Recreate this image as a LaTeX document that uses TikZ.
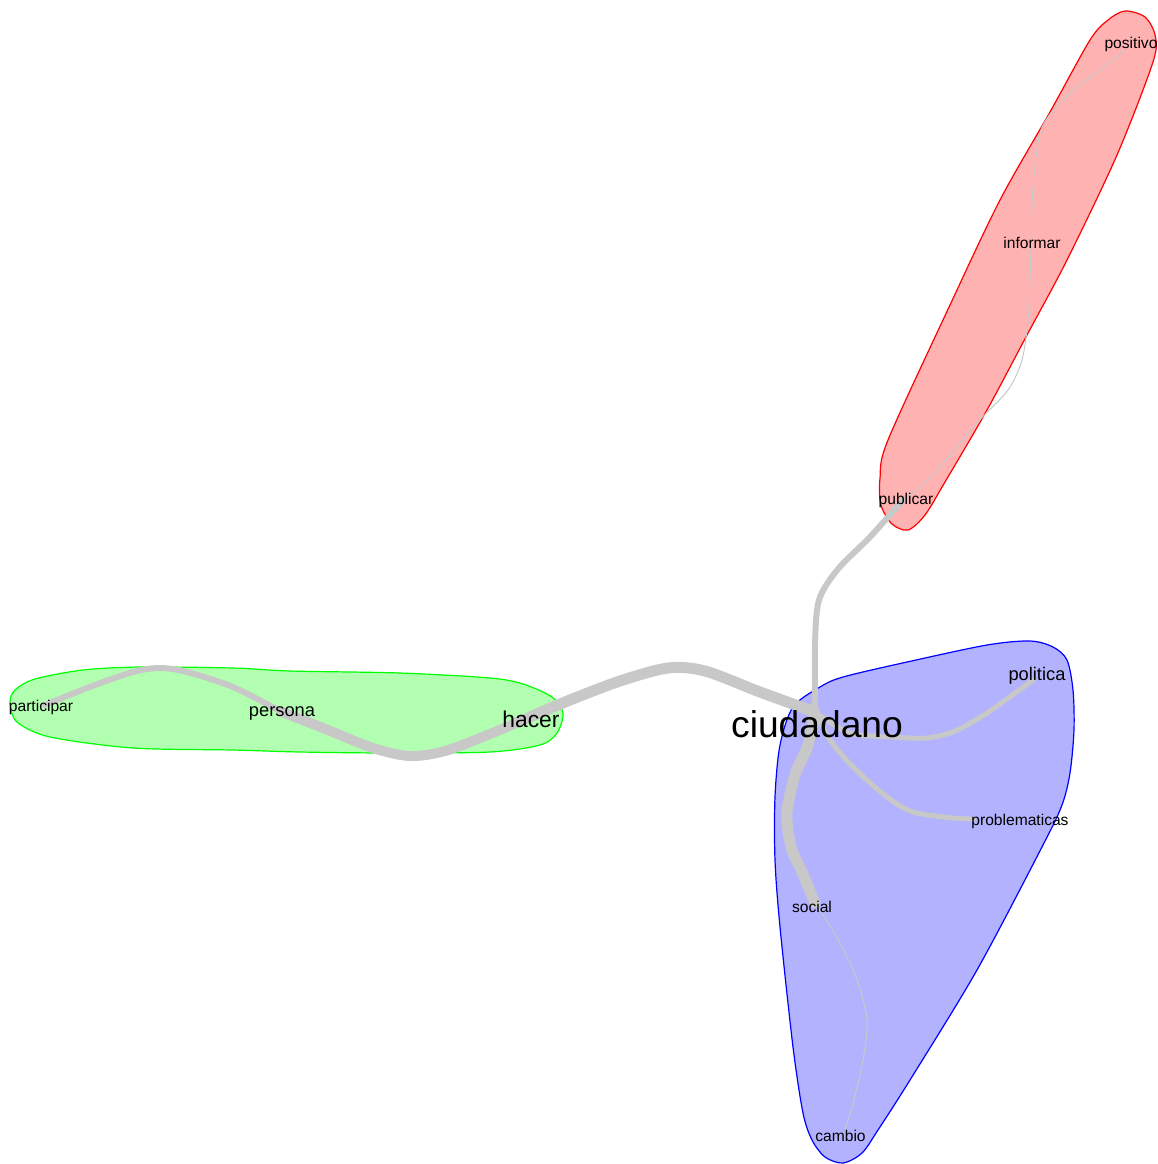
\documentclass[tikz,border=0pt]{standalone}
\usepackage{fontspec}
\setmainfont{Liberation Sans}
\definecolor{edgegray}{RGB}{200,200,200}
\definecolor{hullred}{RGB}{255,178,178}
\definecolor{hullgreen}{RGB}{178,255,178}
\definecolor{hullblue}{RGB}{178,178,255}
\begin{document}
\begin{tikzpicture}[x=0.5pt,y=-0.5pt,
  hull/.style={line width=0.6pt},
  edge/.style={draw=edgegray,line cap=round,line join=round},
  lbl/.style={anchor=base,inner sep=0pt,text=black},
  lblS/.style={lbl,font=\fontsize{7.8}{9}\selectfont},
  lblM/.style={lbl,font=\fontsize{9.15}{11}\selectfont},
  lblL/.style={lbl,font=\fontsize{11.4}{13}\selectfont},
  lblXL/.style={lbl,font=\fontsize{18.6}{22}\selectfont}]
\useasboundingbox (0,0) rectangle (1158,1164);
% hulls
\draw[hull,draw=red,fill=hullred] plot[smooth cycle,tension=0.5] coordinates {
 (1125,11) (1145,17) (1155,35) (1153,62) (1117,155) (1067,260) (1027,335)
 (987,410) (945,482) (925,515) (908,530) (892,524) (881,505) (880,478)
 (888,440) (950,305) (1000,200) (1050,112) (1090,40) (1108,20)};
\draw[hull,draw=blue,fill=hullblue] plot[smooth cycle,tension=0.5] coordinates {
 (793,707) (820,687) (843,677) (907,662) (987,645) (1030,641) (1053,647)
 (1067,660) (1073,690) (1074,730) (1070,773) (1062,805) (1043,845)
 (977,970) (910,1080) (878,1130) (862,1153) (843,1163) (825,1157)
 (812,1140) (803,1113) (793,1047) (780,927) (775,860) (775,797) (780,745)};
\draw[hull,draw=green,fill=hullgreen] plot[smooth cycle,tension=0.5] coordinates {
 (10,703) (17,722) (50,737) (133,748) (233,750) (300,752) (390,753)
 (490,752) (540,745) (557,733) (563,713) (552,697) (523,684) (490,678)
 (400,673) (290,671) (233,668) (140,667) (83,670) (35,679) (15,690)};
% vertices
\coordinate (vciudadano) at (815,712);
\coordinate (vhacer) at (530,717);
\coordinate (vpersona) at (282,712);
\coordinate (vparticipar) at (45,705);
\coordinate (vpublicar) at (903,500);
\coordinate (vinformar) at (1031,243);
\coordinate (vpositivo) at (1125,50);
\coordinate (vpolitica) at (1033,680);
\coordinate (vproblematicas) at (973,819);
\coordinate (vsocial) at (815,903);
\coordinate (vcambio) at (845,1130);
% edges
\draw[edge,line width=5.5pt] plot[smooth] coordinates {(vciudadano) (760,692) (705,671) (668,668) (620,681) (570,700) (vhacer)};
\draw[edge,line width=5pt] plot[smooth] coordinates {(vhacer) (490,734) (445,751) (410,756) (373,748) (323,728) (vpersona)};
\draw[edge,line width=3pt] plot[smooth] coordinates {(vpersona) (233,687) (187,672) (160,668) (133,672) (87,688) (vparticipar)};
\draw[edge,line width=3pt] plot[smooth] coordinates {(vciudadano) (815,645) (819,600) (838,569) (870,537) (vpublicar)};
\draw[edge,line width=0.5pt] plot[smooth] coordinates {(vpublicar) (930,478) (977,423) (1008,390) (1022,360) (1028,320) (1030,280) (vinformar)};
\draw[edge,line width=0.5pt] plot[smooth] coordinates {(vinformar) (1033,187) (1040,133) (1055,108) (1080,85) (1103,68) (vpositivo)};
\draw[edge,line width=2.5pt] plot[smooth] coordinates {(vciudadano) (850,733) (893,737) (927,738) (955,731) (987,713) (vpolitica)};
\draw[edge,line width=2.5pt] plot[smooth] coordinates {(vciudadano) (830,740) (853,767) (887,797) (913,812) (953,818) (vproblematicas)};
\draw[edge,line width=5.5pt] plot[smooth] coordinates {(vciudadano) (808,745) (795,775) (787,813) (791,847) (802,872) (vsocial)};
\draw[edge,line width=0.5pt] plot[smooth] coordinates {(vsocial) (822,913) (840,943) (857,980) (867,1020) (863,1060) (853,1103) (vcambio)};
% labels
\node[lblXL] (ciudadano) at (817,737) {ciudadano};
\node[lblL] (hacer) at (531,727) {hacer};
\node[lblM] (persona) at (282,716) {persona};
\node[lblS] (participar) at (41,711) {participar};
\node[lblS] (publicar) at (906,504) {publicar};
\node[lblS] (informar) at (1032,248) {informar};
\node[lblS] (positivo) at (1131,48) {positivo};
\node[lblM] (politica) at (1037,680) {politica};
\node[lblS] (problematicas) at (1020,825) {problematicas};
\node[lblS] (social) at (812,912) {social};
\node[lblS] (cambio) at (840.5,1141) {cambio};
\end{tikzpicture}
\end{document}
